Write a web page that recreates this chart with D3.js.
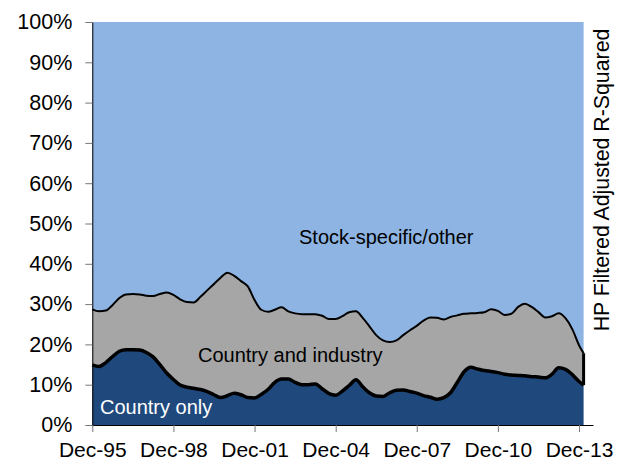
<!DOCTYPE html>
<html>
<head>
<meta charset="utf-8">
<script src="https://cdn.jsdelivr.net/npm/d3@7"></script>
<style>
  body { margin: 0; background: #fff; }
  text { font-family: Arial, "Liberation Sans", sans-serif; }
</style>
</head>
<body>
<svg id="chart" width="624" height="462"></svg>
<script>
// quarterly readings, Dec-95 .. Feb-14
var dates = [
  "1995-12","1996-03","1996-06","1996-09","1996-12","1997-03","1997-06","1997-09",
  "1997-12","1998-03","1998-06","1998-09","1998-12","1999-03","1999-06","1999-09",
  "1999-12","2000-03","2000-06","2000-09","2000-12","2001-03","2001-06","2001-09",
  "2001-12","2002-03","2002-06","2002-09","2002-12","2003-03","2003-06","2003-09",
  "2003-12","2004-03","2004-06","2004-09","2004-12","2005-03","2005-06","2005-09",
  "2005-12","2006-03","2006-06","2006-09","2006-12","2007-03","2007-06","2007-09",
  "2007-12","2008-03","2008-06","2008-09","2008-12","2009-03","2009-06","2009-09",
  "2009-12","2010-03","2010-06","2010-09","2010-12","2011-03","2011-06","2011-09",
  "2011-12","2012-03","2012-06","2012-09","2012-12","2013-03","2013-06","2013-09",
  "2013-12","2014-02"
];

// % R-squared, country factors only
var countryOnly = [
  14.9, 14.5, 15.5, 17.0, 18.3, 18.7, 18.7, 18.6,
  18.0, 16.9, 15.0, 12.9, 11.3, 9.9, 9.4, 9.1,
  8.8, 8.3, 7.5, 6.8, 7.3, 7.9, 7.5, 6.8,
  6.7, 7.6, 8.8, 10.6, 11.4, 11.4, 10.6, 10.0,
  10.0, 10.2, 9.0, 7.8, 7.4, 8.4, 9.8, 11.2,
  9.5, 8.0, 7.2, 7.1, 8.0, 8.6, 8.7, 8.3,
  7.9, 7.3, 6.9, 6.4, 6.8, 8.0, 10.6, 13.2,
  14.3, 13.9, 13.5, 13.3, 13.0, 12.6, 12.4, 12.3,
  12.2, 12.0, 11.9, 11.7, 12.6, 14.2, 13.8, 12.5,
  10.8, 9.9
];

// % R-squared, country and industry factors
var countryIndustry = [
  28.7, 28.2, 28.4, 29.8, 31.5, 32.4, 32.5, 32.4,
  32.1, 32.0, 32.5, 32.9, 32.3, 31.2, 30.5, 30.4,
  31.8, 33.4, 35.0, 36.6, 37.8, 37.0, 35.7, 34.4,
  31.0, 28.6, 28.1, 28.6, 29.2, 28.2, 27.7, 27.5,
  27.5, 27.5, 27.1, 26.3, 26.3, 27.0, 28.0, 28.2,
  26.6, 24.5, 22.3, 21.0, 20.6, 21.0, 22.3, 23.5,
  24.6, 25.9, 26.7, 26.6, 26.2, 26.8, 27.2, 27.6,
  27.7, 27.8, 28.0, 28.7, 28.3, 27.3, 27.6, 29.3,
  30.1, 29.3, 28.0, 26.7, 27.0, 27.7, 26.5, 23.8,
  19.8, 17.8
];

var xTicks = ["1995-12","1998-12","2001-12","2004-12","2007-12","2010-12","2013-12"];
var yTicks = [0, 10, 20, 30, 40, 50, 60, 70, 80, 90, 100];

var parse = d3.timeParse("%Y-%m");
var data = dates.map(function(d, i) {
  return { date: parse(d), country: countryOnly[i], total: countryIndustry[i] };
});

var svg = d3.select("#chart");

var x = d3.scaleTime()
  .domain([parse("1995-12"), new Date(2014, 5, 8)])
  .range([92.3, 593]);
var y = d3.scaleLinear().domain([0, 100]).range([425, 22]);

var curve = d3.curveMonotoneX;

// Stock-specific/other: from country+industry up to 100%
svg.append("path")
  .datum(data)
  .attr("fill", "#8DB4E2")
  .attr("d", d3.area().curve(curve)
    .x(function(d) { return x(d.date); })
    .y0(function(d) { return y(d.total); })
    .y1(function() { return y(100); }));

// Country and industry band
svg.append("path")
  .datum(data)
  .attr("fill", "#A6A6A6")
  .attr("d", d3.area().curve(curve)
    .x(function(d) { return x(d.date); })
    .y0(function(d) { return y(d.country); })
    .y1(function(d) { return y(d.total); }));

// Country only
svg.append("path")
  .datum(data)
  .attr("fill", "#1F497D")
  .attr("d", d3.area().curve(curve)
    .x(function(d) { return x(d.date); })
    .y0(function() { return y(0); })
    .y1(function(d) { return y(d.country); }));

// outlines
svg.append("path")
  .datum(data)
  .attr("fill", "none")
  .attr("stroke", "#000")
  .attr("stroke-width", 2)
  .attr("d", d3.line().curve(curve)
    .x(function(d) { return x(d.date); })
    .y(function(d) { return y(d.total); }));

svg.append("path")
  .datum(data)
  .attr("fill", "none")
  .attr("stroke", "#000")
  .attr("stroke-width", 3.5)
  .attr("stroke-linejoin", "round")
  .attr("d", d3.line().curve(curve)
    .x(function(d) { return x(d.date); })
    .y(function(d) { return y(d.country); }));

var last = data[data.length - 1];
svg.append("line")
  .attr("x1", x(last.date)).attr("x2", x(last.date))
  .attr("y1", y(last.country)).attr("y2", y(last.total))
  .attr("stroke", "#000")
  .attr("stroke-width", 3);

// Axes
var xAxis = svg.append("g")
  .attr("transform", "translate(0,425)")
  .call(d3.axisBottom(x)
    .tickValues(xTicks.map(parse))
    .tickFormat(d3.timeFormat("%b-%y"))
    .tickSize(7)
    .tickSizeOuter(0));
xAxis.select(".domain").attr("stroke", "#000");
xAxis.selectAll(".tick line").attr("stroke", "#777");
xAxis.selectAll(".tick text")
  .attr("fill", "#000")
  .attr("font-size", "21px")
  .attr("y", 17);

var yAxis = svg.append("g")
  .attr("transform", "translate(92.3,0)")
  .call(d3.axisLeft(y)
    .tickValues(yTicks)
    .tickFormat(function(d) { return d + "%"; })
    .tickSize(7)
    .tickSizeOuter(0)
    .tickPadding(13));
yAxis.select(".domain").attr("stroke", "#000");
yAxis.selectAll(".tick line").attr("stroke", "#777");
yAxis.selectAll(".tick text")
  .attr("fill", "#000")
  .attr("font-size", "21.5px");
svg.selectAll("g").attr("font-family", null);

// Area labels
svg.append("text")
  .attr("x", 299).attr("y", 244)
  .attr("font-size", "20px")
  .attr("fill", "#000")
  .text("Stock-specific/other");

svg.append("text")
  .attr("x", 198).attr("y", 362)
  .attr("font-size", "20px")
  .attr("fill", "#000")
  .text("Country and industry");

svg.append("text")
  .attr("x", 100).attr("y", 414)
  .attr("font-size", "20px")
  .attr("fill", "#fff")
  .text("Country only");

// Right-hand title
svg.append("text")
  .attr("transform", "translate(609,180) rotate(-90)")
  .attr("text-anchor", "middle")
  .attr("font-size", "21.3px")
  .attr("fill", "#000")
  .text("HP Filtered Adjusted R-Squared");
</script>
</body>
</html>
